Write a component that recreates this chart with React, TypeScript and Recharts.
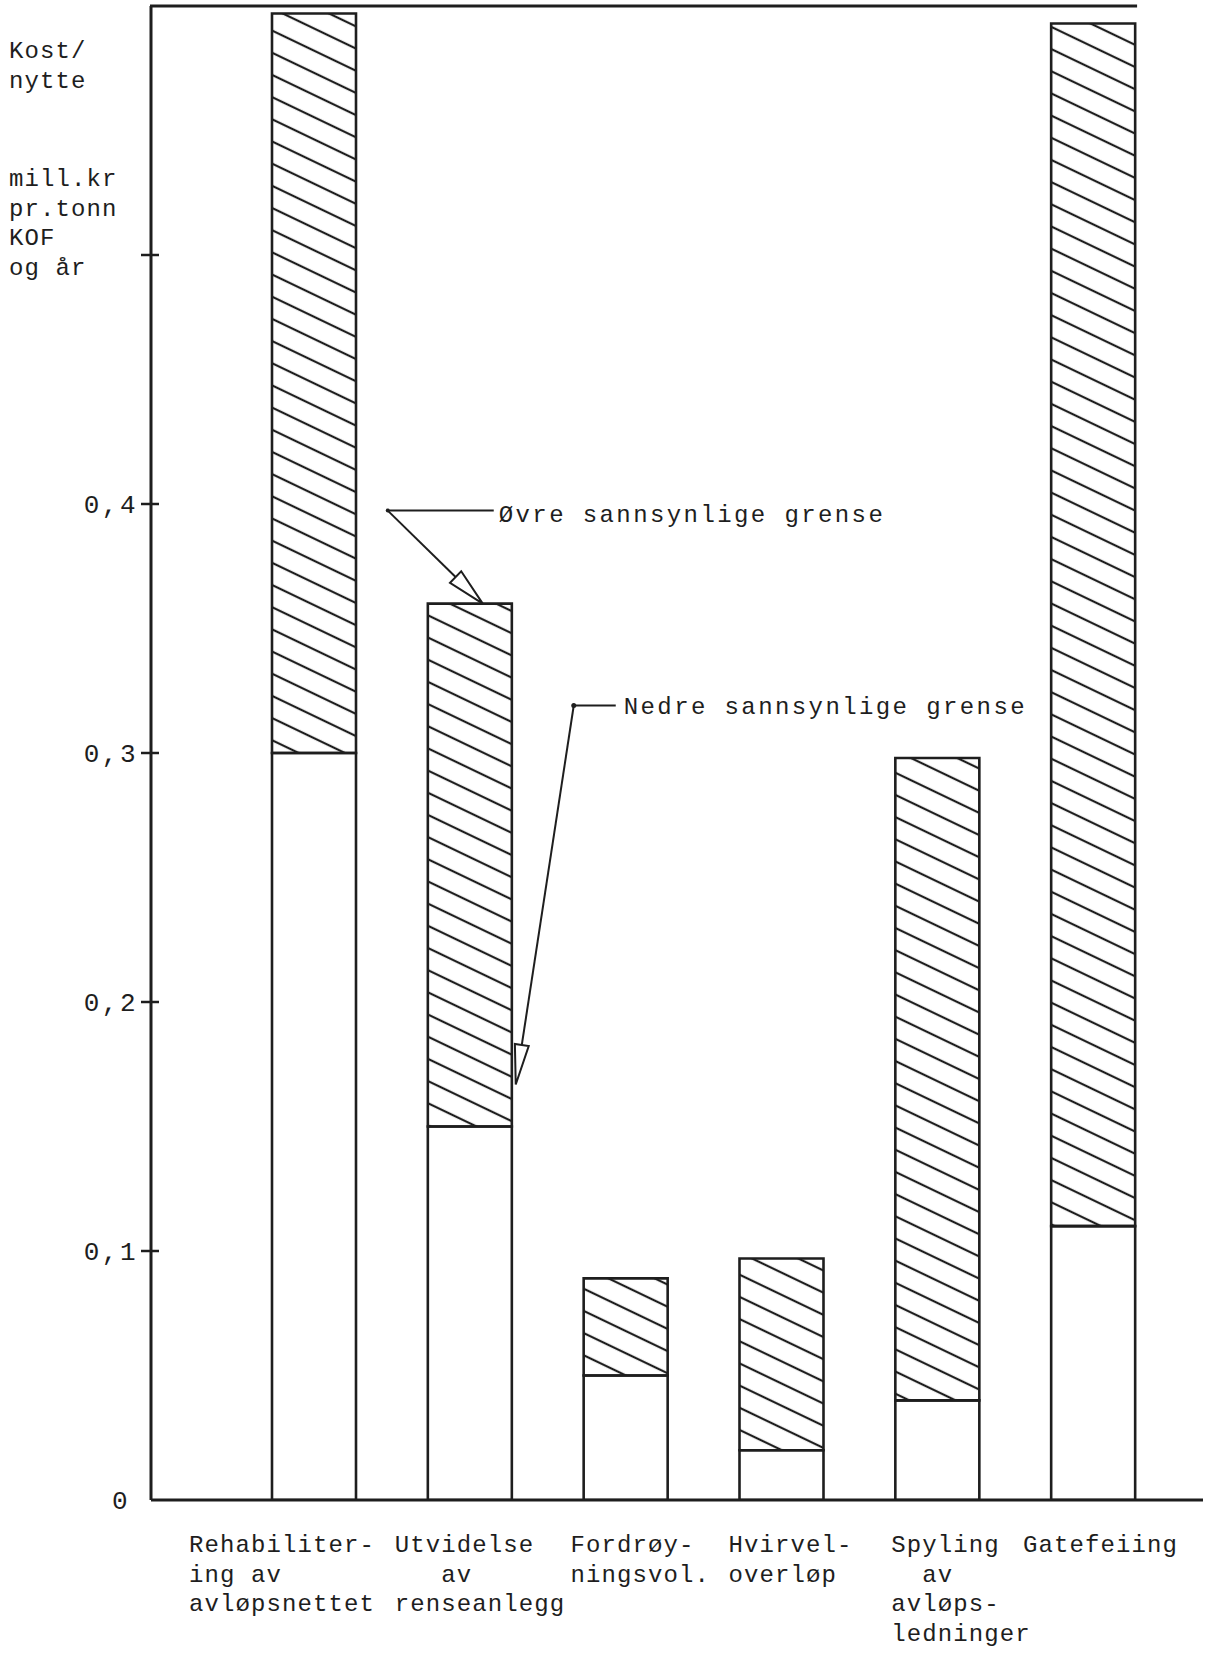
import React from "react";
import { BarChart, Bar, XAxis, YAxis, ReferenceDot } from "recharts";

// kost/nytte, mill.kr pr. tonn KOF og år
const categories = ["Rehabilitering", "Utvidelse", "Fordrøyning", "Hvirveloverløp", "Spyling", "Gatefeiing"];
const lowerLimit = [0.3, 0.15, 0.05, 0.02, 0.04, 0.11];
const upperLimit = [0.597, 0.36, 0.089, 0.097, 0.298, 0.593];

const categoryLabels = [
  ["Rehabiliter-", "ing av", "avløpsnettet"],
  ["Utvidelse", "   av", "renseanlegg"],
  ["Fordrøy-", "ningsvol."],
  ["Hvirvel-", "overløp"],
  ["Spyling", "  av", "avløps-", "ledninger"],
  ["Gatefeiing"],
];

const yTicks = [0, 0.1, 0.2, 0.3, 0.4, 0.5];
const yTickLabels = ["0", "0,1", "0,2", "0,3", "0,4", ""];
const yTitleTop = ["Kost/", "nytte"];
const yTitleBottom = ["mill.kr", "pr.tonn", "KOF", "og år"];

const upperNote = "Øvre sannsynlige grense";
const lowerNote = "Nedre sannsynlige grense";

const data = categories.map((name, i) => ({
  name,
  lower: lowerLimit[i],
  range: upperLimit[i] - lowerLimit[i],
}));

// layout
const W = 1212;
const H = 1656;
const PLOT_LEFT = 151;
const BAR_W = 84;
const INK = "#1e1e1e";
const FONT = "'Liberation Mono', 'DejaVu Sans Mono', monospace";
const FS = 24;
const LS = 1.1;
// left edge of each typed label relative to its tick
const labelShift = [-125, -75, -55, -53, -46, -70];

const textStyle: React.CSSProperties = { whiteSpace: "pre" };

const YTick = (props: any) => {
  const { x, y, payload } = props;
  const i = yTicks.indexOf(payload.value);
  const label = i >= 0 ? yTickLabels[i] : "";
  return (
    <g>
      {payload.value !== 0 && <line x1={x - 10} x2={x + 8} y1={y} y2={y} stroke={INK} strokeWidth={2.5} />}
      <text
        x={payload.value === 0 ? x - 21 : x - 13}
        y={y + 9}
        textAnchor="end"
        fontFamily={FONT}
        fontSize={26}
        letterSpacing={2.5}
        fill={INK}
      >
        {label}
      </text>
    </g>
  );
};

const XTick = (props: any) => {
  const { x, y, payload } = props;
  const i = categories.indexOf(payload.value);
  const lines = categoryLabels[i] || [];
  const left = x + (labelShift[i] ?? 0);
  return (
    <text x={left} y={y} fontFamily={FONT} fontSize={FS} letterSpacing={LS} fill={INK} style={textStyle} xmlSpace="preserve">
      {lines.map((l, k) => (
        <tspan key={k} x={left} y={y + 52 + k * 29.5}>
          {l}
        </tspan>
      ))}
    </text>
  );
};

const arrow = (tx: number, ty: number, fx: number, fy: number, len: number, half: number) => {
  const dx = fx - tx;
  const dy = fy - ty;
  const d = Math.hypot(dx, dy);
  const ux = dx / d;
  const uy = dy / d;
  const bx = tx + ux * len;
  const by = ty + uy * len;
  const px = -uy * half;
  const py = ux * half;
  return { bx, by, points: `${tx},${ty} ${bx + px},${by + py} ${bx - px},${by - py}` };
};

const UpperNote = (props: any) => {
  const { cx, cy } = props;
  const tx = cx + 13, ty = cy;
  const kx = cx - 82, ky = cy - 93;
  const a = arrow(tx, ty, kx, ky, 38, 8);
  return (
    <g>
      <line x1={cx + 24} y1={ky} x2={kx} y2={ky} stroke={INK} strokeWidth={2} />
      <line x1={kx} y1={ky} x2={a.bx} y2={a.by} stroke={INK} strokeWidth={2} />
      <circle cx={kx} cy={ky} r={2} fill={INK} />
      <polygon points={a.points} fill="#fff" stroke={INK} strokeWidth={2} />
      <text x={cx + 29} y={cy - 82} fontFamily={FONT} fontSize={FS} letterSpacing={2.4} fill={INK}>
        {upperNote}
      </text>
    </g>
  );
};

const LowerNote = (props: any) => {
  const { cx, cy } = props;
  const tx = cx + 46, ty = cy - 42;
  const kx = cx + 104, ky = cy - 421;
  const a = arrow(tx, ty, kx, ky, 40, 7);
  return (
    <g>
      <line x1={cx + 146} y1={ky} x2={kx} y2={ky} stroke={INK} strokeWidth={2} />
      <line x1={kx} y1={ky} x2={a.bx} y2={a.by} stroke={INK} strokeWidth={2} />
      <circle cx={kx} cy={ky} r={2.5} fill={INK} />
      <polygon points={a.points} fill="#fff" stroke={INK} strokeWidth={2} />
      <text x={cx + 154} y={cy - 413} fontFamily={FONT} fontSize={FS} letterSpacing={2.4} fill={INK}>
        {lowerNote}
      </text>
    </g>
  );
};

const TopFrame = (props: any) => {
  const { cx, cy } = props;
  return <line x1={PLOT_LEFT - 1} x2={cx + BAR_W / 2 + 2} y1={cy} y2={cy} stroke={INK} strokeWidth={3} />;
};

export default function App() {
  return (
    <div style={{ position: "absolute", left: 0, top: 0, width: W, height: H, background: "#fff" }}>
      <svg width={0} height={0} style={{ position: "absolute" }}>
        <defs>
          <pattern id="hatch" patternUnits="userSpaceOnUse" width={12} height={20} patternTransform="rotate(25.6)">
            <line x1={-2} x2={14} y1={10} y2={10} stroke={INK} strokeWidth={2.2} />
          </pattern>
        </defs>
      </svg>

      <svg width={150} height={300} style={{ position: "absolute", left: 0, top: 0, pointerEvents: "none" }}>
        {yTitleTop.map((t, k) => (
          <text key={t} x={9} y={58 + k * 30} fontFamily={FONT} fontSize={FS} letterSpacing={LS} fill={INK}>
            {t}
          </text>
        ))}
        {yTitleBottom.map((t, k) => (
          <text key={t} x={9} y={186 + k * 29.5} fontFamily={FONT} fontSize={FS} letterSpacing={LS} fill={INK}>
            {t}
          </text>
        ))}
      </svg>

      <BarChart width={W} height={H} data={data} margin={{ top: 6, right: 9, left: 0, bottom: 0 }}>
        <XAxis
          dataKey="name"
          type="category"
          height={156}
          padding={{ left: 85, right: 32 }}
          axisLine={{ stroke: INK, strokeWidth: 3 }}
          tickLine={false}
          tickSize={0}
          tickMargin={0}
          tick={<XTick />}
          interval={0}
        />
        <YAxis
          type="number"
          domain={[0, 0.6]}
          ticks={yTicks}
          width={PLOT_LEFT}
          allowDataOverflow
          axisLine={{ stroke: INK, strokeWidth: 3 }}
          tickLine={false}
          tickSize={0}
          tickMargin={0}
          tick={<YTick />}
          interval={0}
        />
        <Bar dataKey="lower" stackId="s" barSize={BAR_W} fill="#fff" stroke={INK} strokeWidth={2.6} isAnimationActive={false} />
        <Bar dataKey="range" stackId="s" barSize={BAR_W} fill="url(#hatch)" stroke={INK} strokeWidth={2.6} isAnimationActive={false} />
        <ReferenceDot x="Gatefeiing" y={0.6} ifOverflow="visible" shape={(p: any) => <TopFrame {...p} />} />
        <ReferenceDot x="Utvidelse" y={upperLimit[1]} ifOverflow="visible" shape={(p: any) => <UpperNote {...p} />} />
        <ReferenceDot x="Utvidelse" y={lowerLimit[1]} ifOverflow="visible" shape={(p: any) => <LowerNote {...p} />} />
      </BarChart>
    </div>
  );
}
